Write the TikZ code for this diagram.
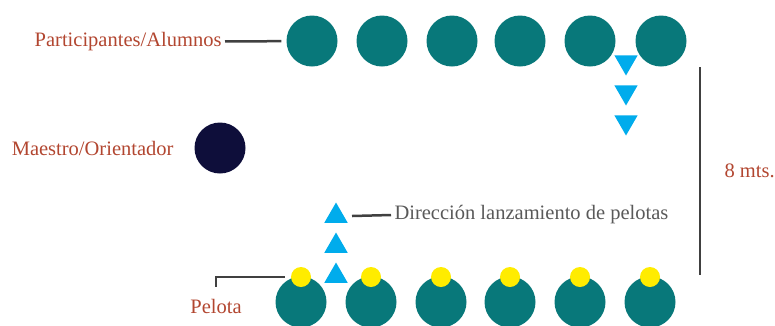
\documentclass[tikz,border=0pt]{standalone}
\usepackage{fontspec}
\setmainfont{Liberation Serif}
\usepackage{xcolor}
\usetikzlibrary{positioning,shapes.geometric}

\definecolor{verdeazul}{RGB}{8,120,122}
\definecolor{azulnoche}{RGB}{14,14,58}
\definecolor{celeste}{RGB}{0,172,236}
\definecolor{amarillo}{RGB}{255,236,0}
\definecolor{ladrillo}{RGB}{178,70,48}
\definecolor{grisoscuro}{RGB}{64,64,64}

\begin{document}
\begin{tikzpicture}[
    x=1pt, y=-1pt,
    alumno/.style={circle, fill=verdeazul, minimum size=51pt, inner sep=0pt},
    maestro/.style={circle, fill=azulnoche, minimum size=51pt, inner sep=0pt},
    bola/.style={circle, fill=amarillo, minimum size=20pt, inner sep=0pt},
    bajada/.style={regular polygon, regular polygon sides=3, shape border rotate=180, fill=celeste, minimum size=27pt, inner sep=0pt},
    subida/.style={regular polygon, regular polygon sides=3, fill=celeste, minimum size=27pt, inner sep=0pt},
    linea/.style={draw=grisoscuro, line width=2.5pt},
    etiqueta/.style={font=\fontsize{20.5}{24}\selectfont, text=ladrillo},
    nota/.style={font=\fontsize{20.5}{24}\selectfont, text=black!65}
]
\useasboundingbox (0,0) rectangle (775,325);

% Fila de arriba (participantes)
\foreach \x [count=\i] in {312,382,452,520,590,661}
    \node[alumno] (arriba\i) at (\x,41) {};

% Fila de abajo con pelotas
\foreach \x [count=\i] in {301,371,441,510,580,650} {
    \node[alumno] (abajo\i) at (\x,302) {};
    \node[bola] (pelota\i) at (\x,277) {};
}

% Maestro
\node[maestro] (maestro) at (220,148) {};
\node[etiqueta, anchor=east] (maestrotxt) at (177,148) {Maestro/Orientador};

% Flechas de direccion
\foreach \y [count=\i] in {62,92,122}
    \node[bajada] (bajada\i) at (626,\y) {};
\foreach \y [count=\i] in {216,246,276}
    \node[subida] (subida\i) at (336,\y) {};

% Etiquetas
\node[etiqueta, anchor=east] (alumnostxt) at (225,42) {Participantes/Alumnos};
\draw[linea, shorten >=5pt] (alumnostxt) -- (arriba1);

\node[nota, anchor=west] (direcciontxt) at (391,215) {Dirección lanzamiento de pelotas};
\draw[linea] ([xshift=16pt]subida1.center) -- (direcciontxt.west);

\node[etiqueta] (pelotatxt) at (216,306) {Pelota};
\draw[linea, shorten <=6pt, shorten >=8pt] (pelota1.west) -| (pelotatxt.north);

% Medida
\coordinate (medidaarriba) at (700,67);
\coordinate (medidaabajo) at (700,275);
\draw[linea] (medidaarriba) -- (medidaabajo) node[midway, right=20pt, etiqueta] (medidatxt) {8 mts.};
\end{tikzpicture}
\end{document}
